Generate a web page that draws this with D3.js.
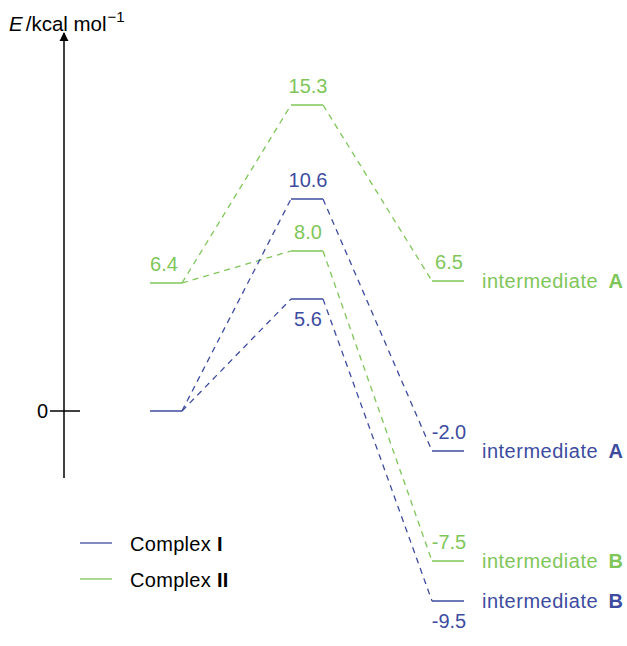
<!DOCTYPE html>
<html>
<head>
<meta charset="utf-8">
<script src="https://cdn.jsdelivr.net/npm/d3@7"></script>
<style>
  html, body { margin: 0; padding: 0; background: #fff; }
  svg { display: block; font-family: "Liberation Sans", Arial, Helvetica, sans-serif; }
</style>
</head>
<body>
<svg id="chart" width="627" height="646"></svg>
<script>
// Reaction stages along the horizontal direction
const stages = ["start", "ts", "intermediateA", "intermediateB"];

// Relative energies (kcal/mol) for each complex
const complexIValues = { start: 0.0, ts: 10.6, ts2: 5.6, intermediateA: -2.0, intermediateB: -9.5 };
const complexIIValues = { start: 6.4, ts: 15.3, ts2: 8.0, intermediateA: 6.5, intermediateB: -7.5 };

// Pathways: start -> TS -> intermediate
const complexIPaths = [["start", "ts", "intermediateA"], ["start", "ts2", "intermediateB"]];
const complexIIPaths = [["start", "ts", "intermediateA"], ["start", "ts2", "intermediateB"]];

// Labels placed under the level instead of above it
const complexIBelow = ["ts2", "intermediateB"];
const complexIIBelow = [];
// Levels whose value is given by the axis tick instead of a label
const complexIUnlabelled = ["start"];
const complexIIUnlabelled = [];

const yTicks = [0];
const seriesNames = ["Complex I", "Complex II"];
const seriesLetters = ["I", "II"];
const intermediateLetters = { intermediateA: "A", intermediateB: "B" };

const BLUE = "#3d4c9f";
const GREEN = "#7fc65a";
const FONT = 20;

const svg = d3.select("#chart");

// Energy scale
const y = d3.scaleLinear().domain([-10, 16]).range([611, 91]);

// Column positions for each stage
const columnOf = { start: "start", ts: "ts", ts2: "ts", intermediateA: "int", intermediateB: "int" };
const x = d3.scalePoint().domain(["start", "ts", "int"]).range([166, 448]);
const levelHalf = 16;

// Vertical energy axis with arrow
const axisX = 64;
const defs = svg.append("defs");
defs.append("marker")
  .attr("id", "arrow")
  .attr("viewBox", "0 0 10 10")
  .attr("refX", 9).attr("refY", 5)
  .attr("markerWidth", 9).attr("markerHeight", 11)
  .attr("markerUnits", "userSpaceOnUse")
  .attr("orient", "auto")
  .append("path").attr("d", "M0,0 L10,5 L0,10 Z").attr("fill", "#000");

svg.append("line")
  .attr("x1", axisX).attr("x2", axisX)
  .attr("y1", 478).attr("y2", 33)
  .attr("stroke", "#000").attr("stroke-width", 1.5)
  .attr("marker-end", "url(#arrow)");

yTicks.forEach(t => {
  svg.append("line")
    .attr("x1", axisX - 14).attr("x2", axisX + 16)
    .attr("y1", y(t)).attr("y2", y(t))
    .attr("stroke", "#000").attr("stroke-width", 1.5);
  svg.append("text")
    .attr("x", axisX - 16).attr("y", y(t) + 7)
    .attr("text-anchor", "end")
    .attr("font-size", FONT)
    .text(t);
});

// Axis title: E / kcal mol^-1
const title = svg.append("text").attr("x", 9).attr("y", 31).attr("font-size", 20.5);
title.append("tspan").attr("font-style", "italic").text("E");
title.append("tspan").attr("dx", 3).text("/kcal mol");
title.append("tspan").attr("dy", -9).attr("dx", 1).attr("font-size", 15).text("\u22121");

function drawSeries(values, paths, below, unlabelled, color) {
  const g = svg.append("g");
  const used = new Set();
  paths.forEach(p => p.forEach(k => used.add(k)));

  // Dashed connectors between successive levels
  paths.forEach(p => {
    for (let i = 0; i < p.length - 1; i++) {
      const a = p[i], b = p[i + 1];
      g.append("line")
        .attr("x1", x(columnOf[a]) + levelHalf).attr("y1", y(values[a]))
        .attr("x2", x(columnOf[b]) - levelHalf).attr("y2", y(values[b]))
        .attr("stroke", color).attr("stroke-width", 1.3)
        .attr("stroke-dasharray", "6,5");
    }
  });

  // Horizontal energy levels
  used.forEach(k => {
    const cx = x(columnOf[k]);
    g.append("line")
      .attr("x1", cx - levelHalf).attr("x2", cx + levelHalf)
      .attr("y1", y(values[k])).attr("y2", y(values[k]))
      .attr("stroke", color).attr("stroke-width", 1.5);

    if (!unlabelled.includes(k)) {
      const isBelow = below.includes(k);
      g.append("text")
        .attr("x", columnOf[k] === "start" ? cx - 2 : cx + 1)
        .attr("y", isBelow ? y(values[k]) + 27 : y(values[k]) - 12)
        .attr("text-anchor", "middle")
        .attr("font-size", FONT)
        .attr("fill", color)
        .text(values[k].toFixed(1));
    }

    if (intermediateLetters[k]) {
      const t = g.append("text")
        .attr("x", cx + 34).attr("y", y(values[k]) + 7)
        .attr("font-size", FONT).attr("fill", color)
        .attr("letter-spacing", 0.5);
      t.append("tspan").text("intermediate\u2002");
      t.append("tspan").attr("font-weight", "bold").text(intermediateLetters[k]);
    }
  });
}

drawSeries(complexIIValues, complexIIPaths, complexIIBelow, complexIIUnlabelled, GREEN);
drawSeries(complexIValues, complexIPaths, complexIBelow, complexIUnlabelled, BLUE);

// Legend
const legendColors = [BLUE, GREEN];
seriesNames.forEach((name, i) => {
  const ly = 543 + i * 36;
  svg.append("line")
    .attr("x1", 80).attr("x2", 112)
    .attr("y1", ly).attr("y2", ly)
    .attr("stroke", legendColors[i]).attr("stroke-width", 1.3);
  const t = svg.append("text")
    .attr("x", 130).attr("y", ly + 8)
    .attr("font-size", FONT).attr("fill", "#000")
    .attr("letter-spacing", 0.3);
  t.append("tspan").text("Complex ");
  t.append("tspan").attr("font-weight", "bold").text(seriesLetters[i]);
});
</script>
</body>
</html>
